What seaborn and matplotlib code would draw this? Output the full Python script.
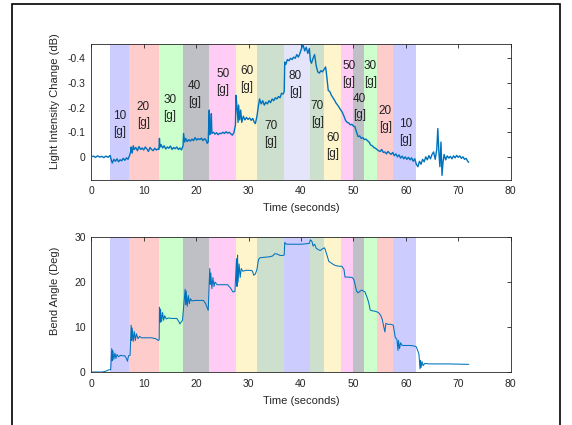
import matplotlib
matplotlib.use("Agg")
import matplotlib.pyplot as plt
from matplotlib.patches import Rectangle
import seaborn as sns
import pandas as pd

# ---------------- data ----------------
band_start = [3.6, 7.2, 12.95, 17.5, 22.5, 27.6, 31.6, 36.8, 41.7, 44.3, 47.7, 50.0, 52.0, 54.5, 57.6]
band_end = [7.2, 12.95, 17.5, 22.5, 27.6, 31.6, 36.8, 41.7, 44.3, 47.7, 50.0, 52.0, 54.5, 57.6, 61.9]
loads_g = [10, 20, 30, 40, 50, 60, 70, 80, 70, 60, 50, 40, 30, 20, 10]
band_colors_top = ["#ccccff", "#ffcccc", "#ccffcc", "#bfbfc6", "#ffccf5", "#fff5cc", "#cde0cd",
                   "#e4e4fb", "#cde0cd", "#fff5cc", "#ffccf5", "#bfbfc6", "#ccffcc", "#ffcccc", "#ccccff"]
band_colors_bot = ["#ccccff", "#ffcccc", "#ccffcc", "#bfbfc6", "#ffccf5", "#fff5cc", "#cde0cd",
                   "#ccccff", "#cde0cd", "#fff5cc", "#ffccf5", "#bfbfc6", "#ccffcc", "#ffcccc", "#ccccff"]
label_t = [5.4, 9.9, 15.0, 19.7, 25.1, 29.7, 34.2, 38.9, 43.1, 46.1, 49.1, 51.1, 53.2, 56.1, 59.9]
label_db = [-0.133, -0.171, -0.197, -0.254, -0.304, -0.316, -0.092, -0.296, -0.175, -0.044,
            -0.337, -0.203, -0.337, -0.154, -0.102]

light_t = [0.0, 0.4, 0.8, 1.2, 1.6, 2.0, 2.4, 2.8, 3.2, 3.6, 3.8, 4.0, 4.3, 4.6, 4.9, 5.2, 5.5, 5.8,
           6.1, 6.4, 6.7, 7.0, 7.3, 7.5, 7.6, 7.8, 8.0, 8.2, 8.5, 8.8, 9.1, 9.4, 9.7, 10.0, 10.3,
           10.6, 10.9, 11.2, 11.5, 11.8, 12.1, 12.4, 12.7, 12.9, 13.0, 13.1, 13.3, 13.6, 13.9, 14.2,
           14.5, 14.8, 15.1, 15.4, 15.7, 16.0, 16.3, 16.6, 16.9, 17.2, 17.5, 17.6, 17.8, 18.0, 18.3,
           18.6, 18.9, 19.2, 19.5, 19.8, 20.1, 20.4, 20.7, 21.0, 21.3, 21.6, 21.9, 22.1, 22.3, 22.5,
           22.6, 22.8, 22.9, 23.0, 23.3, 23.6, 23.9, 24.2, 24.5, 24.8, 25.1, 25.4, 25.7, 26.0, 26.3,
           26.6, 26.9, 27.2, 27.5, 27.6, 27.8, 28.0, 28.1, 28.3, 28.5, 28.7, 29.0, 29.3, 29.6, 29.9,
           30.2, 30.5, 30.8, 31.1, 31.3, 31.6, 31.9, 32.1, 32.4, 32.7, 33.0, 33.3, 33.6, 33.9, 34.2,
           34.5, 34.8, 35.1, 35.4, 35.7, 36.0, 36.3, 36.6, 36.8, 36.9, 37.1, 37.4, 37.7, 38.0, 38.3,
           38.6, 38.9, 39.2, 39.5, 39.8, 40.1, 40.4, 40.7, 41.0, 41.3, 41.6, 41.8, 42.0, 42.3, 42.6,
           42.9, 43.2, 43.5, 43.8, 44.1, 44.4, 44.7, 44.9, 45.2, 45.5, 45.8, 46.1, 46.4, 46.7, 47.0,
           47.3, 47.6, 47.9, 48.2, 48.5, 48.8, 49.1, 49.4, 49.7, 50.0, 50.3, 50.6, 50.9, 51.2, 51.5,
           51.8, 52.1, 52.4, 52.7, 53.0, 53.3, 53.6, 53.9, 54.2, 54.5, 54.8, 55.1, 55.4, 55.7, 56.0,
           56.3, 56.6, 56.9, 57.2, 57.5, 57.8, 58.1, 58.4, 58.7, 59.0, 59.3, 59.6, 59.9, 60.2, 60.5,
           60.8, 61.1, 61.4, 61.7, 62.0, 62.3, 62.6, 62.9, 63.2, 63.5, 63.8, 64.1, 64.4, 64.7, 65.0,
           65.3, 65.6, 65.9, 66.1, 66.3, 66.5, 66.7, 66.9, 67.1, 67.3, 67.6, 67.9, 68.2, 68.5, 68.8,
           69.1, 69.4, 69.7, 70.0, 70.3, 70.6, 70.9, 71.2, 71.5, 71.8, 72.0]
light_db = [0.000, -0.003, 0.002, -0.004, 0.001, -0.002, 0.003, -0.003, 0.002, -0.006, 0.012, 0.025,
            0.010, 0.018, 0.008, 0.020, 0.012, 0.016, 0.006, 0.014, 0.004, 0.010, -0.005, -0.020,
            -0.040, -0.015, -0.045, -0.030, -0.038, -0.025, -0.042, -0.030, -0.036, -0.028, -0.040,
            -0.032, -0.022, -0.038, -0.030, -0.025, -0.035, -0.028, -0.032, -0.030, -0.075, -0.040,
            -0.050, -0.036, -0.045, -0.032, -0.040, -0.035, -0.044, -0.030, -0.038, -0.033, -0.040,
            -0.030, -0.036, -0.028, -0.045, -0.095, -0.060, -0.075, -0.062, -0.070, -0.064, -0.072,
            -0.066, -0.078, -0.068, -0.074, -0.070, -0.076, -0.066, -0.074, -0.068, -0.055, -0.060,
            -0.190, -0.090, -0.110, -0.175, -0.095, -0.100, -0.092, -0.098, -0.090, -0.096, -0.094,
            -0.100, -0.095, -0.102, -0.096, -0.100, -0.094, -0.088, -0.098, -0.130, -0.250, -0.200,
            -0.140, -0.210, -0.150, -0.190, -0.140, -0.165, -0.150, -0.160, -0.152, -0.158, -0.148,
            -0.156, -0.140, -0.135, -0.165, -0.210, -0.235, -0.215, -0.228, -0.210, -0.222, -0.215,
            -0.228, -0.220, -0.235, -0.228, -0.240, -0.235, -0.245, -0.240, -0.258, -0.255, -0.265,
            -0.385, -0.375, -0.395, -0.390, -0.400, -0.395, -0.405, -0.400, -0.415, -0.405, -0.420,
            -0.440, -0.455, -0.430, -0.445, -0.420, -0.440, -0.390, -0.380, -0.400, -0.415, -0.370,
            -0.345, -0.340, -0.350, -0.345, -0.355, -0.365, -0.330, -0.270, -0.265, -0.250, -0.240,
            -0.230, -0.218, -0.210, -0.200, -0.190, -0.180, -0.165, -0.148, -0.140, -0.138, -0.130,
            -0.132, -0.125, -0.122, -0.100, -0.082, -0.085, -0.075, -0.078, -0.070, -0.072, -0.065,
            -0.060, -0.048, -0.045, -0.038, -0.035, -0.030, -0.025, -0.022, -0.030, -0.018, -0.020,
            -0.012, -0.022, -0.015, -0.010, -0.018, -0.005, -0.012, 0.000, -0.008, 0.005, -0.003,
            0.008, 0.000, 0.010, 0.002, 0.012, 0.004, 0.018, 0.008, 0.030, 0.040, 0.018, 0.030, 0.010,
            0.020, 0.000, 0.012, -0.005, 0.008, -0.010, -0.020, 0.010, -0.030, -0.115, -0.020, 0.040,
            -0.060, 0.075, 0.020, -0.010, 0.012, -0.004, 0.005, -0.002, 0.008, -0.004, 0.004, -0.006,
            0.002, -0.004, 0.006, 0.000, 0.010, 0.006, 0.018, 0.022]

bend_t = [0.0, 1.0, 2.0, 2.6, 3.0, 3.4, 3.7, 3.9, 4.0, 4.1, 4.3, 4.5, 4.7, 4.9, 5.2, 5.6, 6.0, 6.4,
          6.7, 6.9, 7.1, 7.4, 7.6, 7.7, 7.8, 8.0, 8.2, 8.4, 8.6, 8.9, 9.2, 9.6, 10.5, 11.5, 12.3,
          12.8, 12.95, 13.0, 13.1, 13.2, 13.4, 13.6, 13.8, 14.0, 14.3, 14.7, 15.5, 16.3, 16.7, 16.9,
          17.4, 17.9, 18.0, 18.1, 18.3, 18.5, 18.7, 18.9, 19.2, 19.8, 20.6, 21.4, 21.8, 22.3, 22.6,
          22.7, 22.8, 23.0, 23.2, 23.4, 23.6, 24.0, 25.0, 26.0, 26.6, 27.0, 27.4, 27.7, 27.8, 27.9,
          28.0, 28.2, 28.4, 28.6, 28.9, 29.5, 30.2, 30.7, 31.0, 31.3, 31.6, 31.9, 32.2, 33.0, 34.0,
          34.6, 35.0, 35.5, 36.0, 36.5, 36.8, 36.9, 37.2, 38.5, 40.0, 41.0, 41.6, 41.8, 42.1, 42.3,
          42.6, 42.9, 43.3, 43.7, 44.1, 44.5, 44.9, 45.3, 45.8, 46.3, 46.8, 47.4, 47.8, 48.2, 48.4,
          49.0, 49.8, 50.1, 50.6, 50.9, 51.2, 51.6, 52.2, 52.6, 52.9, 53.2, 53.6, 54.2, 54.8, 55.2,
          55.5, 55.8, 56.0, 56.2, 56.6, 57.2, 57.6, 58.0, 58.3, 58.5, 58.6, 58.8, 59.0, 59.3, 60.0,
          60.8, 61.5, 62.0, 62.5, 62.7, 62.8, 62.9, 63.1, 63.3, 63.6, 64.5, 66.0, 68.0, 70.0, 72.0]
bend_deg = [0.0, 0.0, 0.0, 0.1, 0.3, 0.5, 0.5, 5.2, 2.5, 4.8, 2.8, 4.2, 3.0, 3.9, 3.4, 3.7, 3.6, 3.6,
            3.0, 2.4, 3.6, 3.7, 10.4, 7.0, 9.8, 6.8, 9.0, 7.0, 8.5, 7.4, 7.9, 7.6, 7.6, 7.6, 7.4,
            7.0, 7.2, 14.4, 11.0, 14.0, 11.2, 13.2, 11.5, 12.5, 11.8, 12.0, 11.9, 11.9, 11.2, 10.7,
            11.5, 18.4, 15.0, 18.0, 14.6, 17.0, 15.2, 16.3, 15.8, 15.9, 15.9, 15.9, 15.2, 13.7, 23.0,
            19.5, 22.0, 18.5, 21.0, 19.0, 20.0, 19.4, 19.4, 19.4, 18.6, 17.8, 17.9, 25.2, 19.0, 26.0,
            20.0, 24.0, 21.0, 23.0, 22.4, 22.6, 22.6, 22.5, 21.5, 21.8, 22.8, 25.0, 25.4, 25.5, 25.6,
            25.8, 26.3, 26.2, 25.9, 25.9, 26.0, 28.8, 28.4, 28.4, 28.4, 28.5, 28.6, 29.4, 29.0, 28.0,
            28.4, 27.5, 27.2, 27.0, 27.4, 27.6, 26.2, 24.6, 24.2, 23.8, 23.6, 23.5, 23.5, 22.8, 21.1,
            21.1, 21.0, 20.5, 18.0, 17.6, 17.9, 18.2, 17.8, 16.6, 15.5, 13.8, 13.6, 13.5, 13.2, 12.6,
            11.7, 10.0, 8.9, 10.8, 10.6, 10.6, 10.4, 7.6, 7.3, 4.8, 7.0, 5.2, 6.5, 5.9, 5.9,
            5.9, 5.8, 5.6, 4.0, 0.7, 2.6, 1.0, 2.3, 1.4, 1.9, 1.8, 1.8, 1.8, 1.75, 1.7]

x_ticks = [0, 10, 20, 30, 40, 50, 60, 70, 80]
top_yticks = [-0.4, -0.3, -0.2, -0.1, 0]
top_yticklabels = ["-0.4", "-0.3", "-0.2", "-0.1", "0"]
bot_yticks = [0, 10, 20, 30]

# ---------------- style ----------------
sns.set_style("white")
plt.rcParams["font.family"] = ["Liberation Sans", "DejaVu Sans"]
plt.rcParams["axes.unicode_minus"] = False

LINE = "#0072bd"
AX = "#262626"

fig = plt.figure(figsize=(5.72, 4.25), dpi=100)
fig.patch.set_facecolor("white")
ax1 = fig.add_axes([0.1596, 0.5776, 0.7332, 0.3188])
ax2 = fig.add_axes([0.1596, 0.1247, 0.7332, 0.3176])

df_light = pd.DataFrame({"t": light_t, "db": light_db})
df_bend = pd.DataFrame({"t": bend_t, "deg": bend_deg})

for s, e, c in zip(band_start, band_end, band_colors_top):
    ax1.axvspan(s, e, color=c, lw=0, zorder=0)
for s, e, c in zip(band_start, band_end, band_colors_bot):
    ax2.axvspan(s, e, color=c, lw=0, zorder=0)

sns.lineplot(data=df_light, x="t", y="db", ax=ax1, color=LINE, lw=1.0,
             estimator=None, sort=False, zorder=3)
sns.lineplot(data=df_bend, x="t", y="deg", ax=ax2, color=LINE, lw=0.75,
             estimator=None, sort=False, zorder=3)

for tx, ty, g in zip(label_t, label_db, loads_g):
    ax1.text(tx, ty, f"{g}\n[g]", ha="center", va="center", fontsize=8.5,
             color="#222222", linespacing=1.45, zorder=4)

ax1.set_xlim(0, 80)
ax1.set_ylim(0.092, -0.458)
ax1.set_yticks(top_yticks)
ax1.set_yticklabels(top_yticklabels)
ax2.set_xlim(0, 80)
ax2.set_ylim(0, 30)
ax2.set_yticks(bot_yticks)

ax1.set_ylabel("Light Intensity Change (dB)", fontsize=8, color=AX, labelpad=4)
ax2.set_ylabel("Bend Angle (Deg)", fontsize=8, color=AX, labelpad=4)
ax1.yaxis.set_label_coords(-0.075, 0.58)
ax2.yaxis.set_label_coords(-0.075, 0.6)
for ax in (ax1, ax2):
    ax.set_xticks(x_ticks)
    ax.set_xlabel("Time (seconds)", fontsize=8, color=AX, labelpad=5)
    ax.tick_params(direction="in", top=True, right=True, length=3, width=0.6,
                   colors=AX, labelsize=7.5)
    ax.tick_params(axis="x", pad=5)
    ax.tick_params(axis="y", pad=4)
    for sp in ax.spines.values():
        sp.set_color(AX)
        sp.set_linewidth(0.6)
        sp.set_visible(True)
    ax.set_facecolor("white")

# outer frame
fig.add_artist(Rectangle((12 / 572, -0.1), (560 - 12) / 572, 1 - 4 / 425 + 0.1,
                         transform=fig.transFigure, fill=False, edgecolor="black", lw=1.2))

fig.savefig("out.png", dpi=100)
